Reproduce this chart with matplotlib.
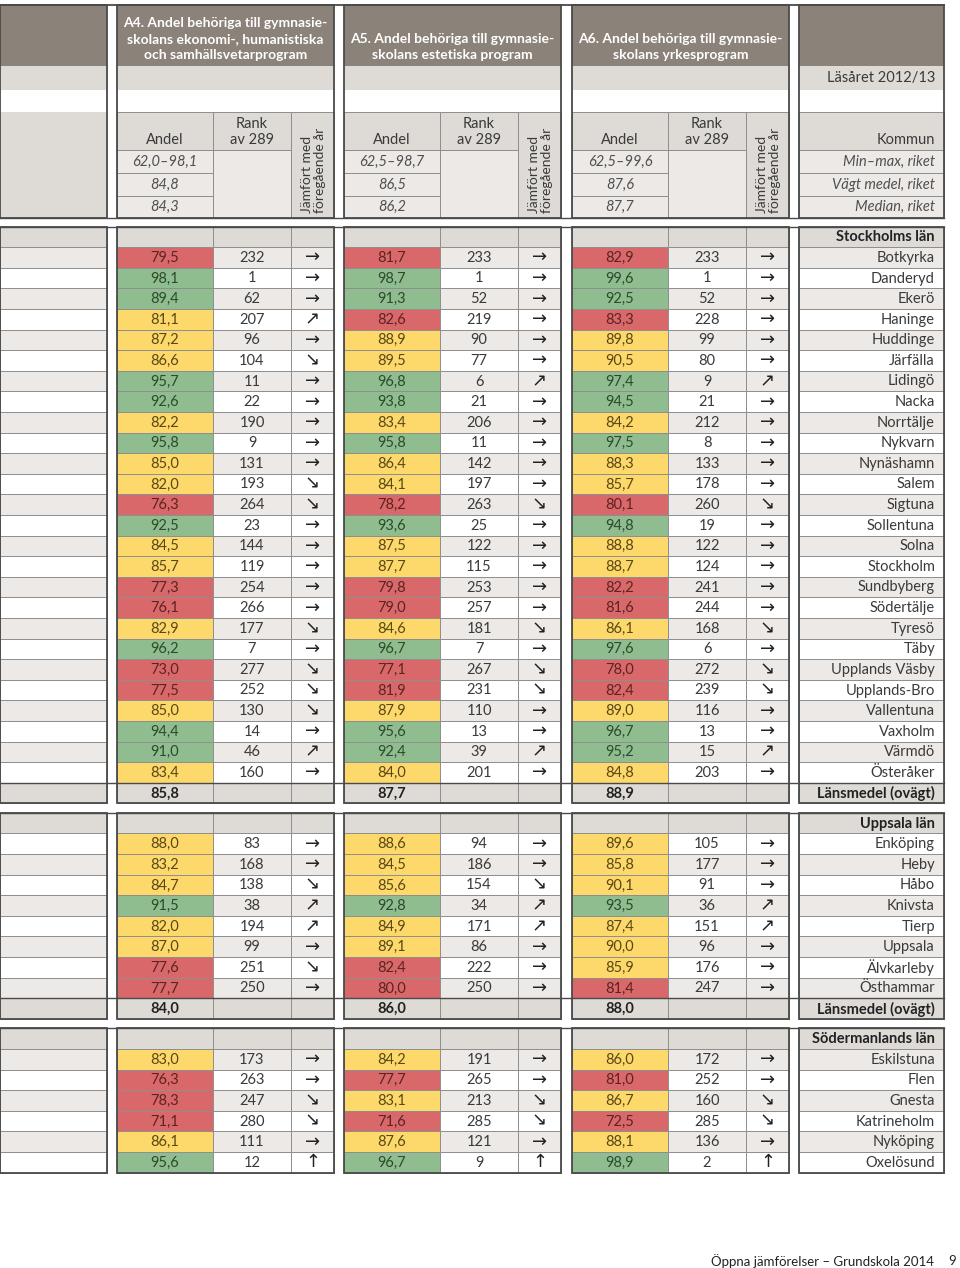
import numpy as np
import matplotlib.pyplot as plt
from matplotlib.patches import Rectangle

# ================= DATA =================
titles = [
    "A4. Andel behöriga till gymnasie-\nskolans ekonomi-, humanistiska\noch samhällsvetarprogram",
    "A5. Andel behöriga till gymnasie-\nskolans estetiska program",
    "A6. Andel behöriga till gymnasie-\nskolans yrkesprogram",
]
year_label = "Läsåret 2012/13"
riket_labels = ["Min–max, riket", "Vägt medel, riket", "Median, riket"]
riket_a4 = ["62,0–98,1", "84,8", "84,3"]
riket_a5 = ["62,5–98,7", "86,5", "86,2"]
riket_a6 = ["62,5–99,6", "87,6", "87,7"]

# Stockholms län
sto_names = ["Botkyrka", "Danderyd", "Ekerö", "Haninge", "Huddinge", "Järfälla", "Lidingö",
             "Nacka", "Norrtälje", "Nykvarn", "Nynäshamn", "Salem", "Sigtuna", "Sollentuna",
             "Solna", "Stockholm", "Sundbyberg", "Södertälje", "Tyresö", "Täby",
             "Upplands Väsby", "Upplands-Bro", "Vallentuna", "Vaxholm", "Värmdö", "Österåker"]
sto_a4 = [79.5, 98.1, 89.4, 81.1, 87.2, 86.6, 95.7, 92.6, 82.2, 95.8, 85.0, 82.0, 76.3, 92.5,
          84.5, 85.7, 77.3, 76.1, 82.9, 96.2, 73.0, 77.5, 85.0, 94.4, 91.0, 83.4]
sto_a4_rank = [232, 1, 62, 207, 96, 104, 11, 22, 190, 9, 131, 193, 264, 23,
               144, 119, 254, 266, 177, 7, 277, 252, 130, 14, 46, 160]
sto_a4_trend = "rrrurdrrrrrddrrrrrdrdddrur"
sto_a5 = [81.7, 98.7, 91.3, 82.6, 88.9, 89.5, 96.8, 93.8, 83.4, 95.8, 86.4, 84.1, 78.2, 93.6,
          87.5, 87.7, 79.8, 79.0, 84.6, 96.7, 77.1, 81.9, 87.9, 95.6, 92.4, 84.0]
sto_a5_rank = [233, 1, 52, 219, 90, 77, 6, 21, 206, 11, 142, 197, 263, 25,
               122, 115, 253, 257, 181, 7, 267, 231, 110, 13, 39, 201]
sto_a5_trend = "rrrrrrurrrrrdrrrrrdrddrrur"
sto_a6 = [82.9, 99.6, 92.5, 83.3, 89.8, 90.5, 97.4, 94.5, 84.2, 97.5, 88.3, 85.7, 80.1, 94.8,
          88.8, 88.7, 82.2, 81.6, 86.1, 97.6, 78.0, 82.4, 89.0, 96.7, 95.2, 84.8]
sto_a6_rank = [233, 1, 52, 228, 99, 80, 9, 21, 212, 8, 133, 178, 260, 19,
               122, 124, 241, 244, 168, 6, 272, 239, 116, 13, 15, 203]
sto_a6_trend = "rrrrrrurrrrrdrrrrrdrddrrur"
sto_mean = [85.8, 87.7, 88.9]

# Uppsala län
upp_names = ["Enköping", "Heby", "Håbo", "Knivsta", "Tierp", "Uppsala", "Älvkarleby", "Östhammar"]
upp_a4 = [88.0, 83.2, 84.7, 91.5, 82.0, 87.0, 77.6, 77.7]
upp_a4_rank = [83, 168, 138, 38, 194, 99, 251, 250]
upp_a4_trend = "rrduurdr"
upp_a5 = [88.6, 84.5, 85.6, 92.8, 84.9, 89.1, 82.4, 80.0]
upp_a5_rank = [94, 186, 154, 34, 171, 86, 222, 250]
upp_a5_trend = "rrduurrr"
upp_a6 = [89.6, 85.8, 90.1, 93.5, 87.4, 90.0, 85.9, 81.4]
upp_a6_rank = [105, 177, 91, 36, 151, 96, 176, 247]
upp_a6_trend = "rrruurrr"
upp_mean = [84.0, 86.0, 88.0]

# Södermanlands län
sod_names = ["Eskilstuna", "Flen", "Gnesta", "Katrineholm", "Nyköping", "Oxelösund"]
sod_a4 = [83.0, 76.3, 78.3, 71.1, 86.1, 95.6]
sod_a4_rank = [173, 263, 247, 280, 111, 12]
sod_a4_trend = "rrddrU"
sod_a5 = [84.2, 77.7, 83.1, 71.6, 87.6, 96.7]
sod_a5_rank = [191, 265, 213, 285, 121, 9]
sod_a5_trend = "rrddrU"
sod_a6 = [86.0, 81.0, 86.7, 72.5, 88.1, 98.9]
sod_a6_rank = [172, 252, 160, 285, 136, 2]
sod_a6_trend = "rrddrU"

# colour class limits (red below first, green from second)
limits = [(80.0, 89.0), (83.0, 91.0), (84.0, 92.0)]

# ================= STYLE =================
DARK_HEAD = "#8b8279"
GRAY_HEAD = "#dedad6"
GRAY_ROW = "#ece9e6"
WHITE = "#ffffff"
GRID = "#8e8e8e"
BORDER = "#4a4a4a"
RED, GREEN, YELLOW = "#d9686a", "#8fbd8f", "#fdd96c"
TXT_RED, TXT_GREEN, TXT_YEL = "#5c2323", "#2c4a2d", "#5a4714"
TXT = "#3a3a3a"
ARROWS = {"r": "→", "u": "↗", "d": "↘", "U": "↑"}

plt.rcParams["font.family"] = ["Lato", "DejaVu Sans"]

fig = plt.figure(figsize=(9.6, 12.68), dpi=100)
ax = fig.add_axes([0, 0, 1, 1])
ax.set_xlim(0, 960)
ax.set_ylim(1268, 0)
ax.axis("off")

# column layout (pixels)
LEFT = (0, 107)
BLOCK_X = [117, 344, 572]
W_ANDEL, W_RANK, W_ARROW = 96, 78, 43
KOM = (799, 944)
ROW_H = 20.6
SEC_GAP = 9.5
PAD = 9


def rect(x0, x1, y0, y1, fc, ec="none", lw=0.0, z=1):
    ax.add_patch(Rectangle((x0, y0), x1 - x0, y1 - y0, facecolor=fc, edgecolor=ec,
                           linewidth=lw, zorder=z))


def cols(b):
    x0 = BLOCK_X[b]
    return x0, x0 + W_ANDEL, x0 + W_ANDEL + W_RANK, x0 + W_ANDEL + W_RANK + W_ARROW


def colour(v, b):
    lo, hi = limits[b]
    if v < lo:
        return RED, TXT_RED
    if v >= hi:
        return GREEN, TXT_GREEN
    return YELLOW, TXT_YEL


def fmt(v):
    return f"{v:.1f}".replace(".", ",")


def arrow_text(x, y, code):
    ax.text(x, y, ARROWS[code], ha="center", va="center", fontsize=13,
            color="#222222", family=["Noto Sans", "DejaVu Sans"])


# ---------- header ----------
H_TOP, H1, H2, H3, H4 = 5, 66, 90, 112, 150
riket_rows = [150, 172.5, 195.5, 218]
all_blocks = [LEFT] + [(cols(b)[0], cols(b)[3]) for b in range(3)] + [KOM]
for x0, x1 in all_blocks:
    rect(x0, x1, H_TOP, H1, DARK_HEAD)
    rect(x0, x1, H1, H2, GRAY_HEAD)
rect(LEFT[0], LEFT[1], H3, riket_rows[-1], GRAY_HEAD)

for b, (title, riket) in enumerate(zip(titles, [riket_a4, riket_a5, riket_a6])):
    x0, xa, xr, x1 = cols(b)
    ax.text((x0 + x1) / 2, 61, title, ha="center", va="bottom", color="white",
            fontsize=10, fontweight="bold", linespacing=1.38)
    rect(x0, xa, H3, H4, GRAY_HEAD, GRID, 0.7)
    rect(xa, xr, H3, H4, GRAY_HEAD, GRID, 0.7)
    rect(xa, xr, H4, riket_rows[-1], GRAY_ROW, GRID, 0.7)
    rect(xr, x1, H3, riket_rows[-1], GRAY_HEAD, GRID, 0.7)
    ax.text((x0 + xa) / 2, 144, "Andel", ha="center", va="baseline", fontsize=10.5, color=TXT)
    ax.text((xa + xr) / 2, 144, "Rank\nav 289", ha="center", va="baseline", fontsize=10.5,
            color=TXT, linespacing=1.2)
    ax.text((xr + x1) / 2 + 1, 170, "Jämfört med\nföregående år", ha="center", va="center",
            rotation=90, fontsize=10, color=TXT, linespacing=1.05, multialignment="left")
    for i, val in enumerate(riket):
        rect(x0, xa, riket_rows[i], riket_rows[i + 1], GRAY_ROW, GRID, 0.7)
        ax.text((x0 + xa) / 2, (riket_rows[i] + riket_rows[i + 1]) / 2 + 0.5, val,
                ha="center", va="center", fontsize=10.5, style="italic", color="#505050")

ax.text(KOM[1] - PAD, 78, year_label, ha="right", va="center", fontsize=10.5, color=TXT)
rect(KOM[0], KOM[1], H3, H4, GRAY_HEAD, GRID, 0.7)
ax.text(KOM[1] - PAD, 144, "Kommun", ha="right", va="baseline", fontsize=10.5, color=TXT)
for i, lab in enumerate(riket_labels):
    rect(KOM[0], KOM[1], riket_rows[i], riket_rows[i + 1], GRAY_ROW, GRID, 0.7)
    ax.text(KOM[1] - PAD, (riket_rows[i] + riket_rows[i + 1]) / 2 + 0.5, lab, ha="right",
            va="center", fontsize=10.5, style="italic", color="#505050")

for x0, x1 in all_blocks:
    rect(x0, x1, H_TOP, riket_rows[-1], "none", BORDER, 1.3, z=3)
ax.plot([0, KOM[1]], [H_TOP, H_TOP], color=BORDER, lw=1.3, zorder=3)
ax.plot([0, KOM[1]], [riket_rows[-1], riket_rows[-1]], color=BORDER, lw=1.0, zorder=3)

# ---------- sections ----------
sections = [
    ("Stockholms län", sto_names, [sto_a4, sto_a5, sto_a6],
     [sto_a4_rank, sto_a5_rank, sto_a6_rank], [sto_a4_trend, sto_a5_trend, sto_a6_trend],
     sto_mean, True),
    ("Uppsala län", upp_names, [upp_a4, upp_a5, upp_a6],
     [upp_a4_rank, upp_a5_rank, upp_a6_rank], [upp_a4_trend, upp_a5_trend, upp_a6_trend],
     upp_mean, False),
    ("Södermanlands län", sod_names, [sod_a4, sod_a5, sod_a6],
     [sod_a4_rank, sod_a5_rank, sod_a6_rank], [sod_a4_trend, sod_a5_trend, sod_a6_trend],
     None, True),
]

top = 226.5
for lan, names, vals, ranks, trends, mean, shade_first in sections:
    n_rows = 1 + len(names) + (1 if mean is not None else 0)
    bottom = top + n_rows * ROW_H

    # län header row
    y0, y1 = top, top + ROW_H
    rect(LEFT[0], LEFT[1], y0, y1, GRAY_HEAD, GRID, 0.7)
    for b in range(3):
        c = cols(b)
        for j in range(3):
            rect(c[j], c[j + 1], y0, y1, GRAY_HEAD, GRID, 0.7)
    rect(KOM[0], KOM[1], y0, y1, GRAY_HEAD, GRID, 0.7)
    ax.text(KOM[1] - PAD, (y0 + y1) / 2 + 0.5, lan, ha="right", va="center", fontsize=10.5,
            fontweight="bold", color="#222222")

    # municipality rows
    for i, name in enumerate(names):
        y0 = top + (i + 1) * ROW_H
        y1 = y0 + ROW_H
        yc = (y0 + y1) / 2 + 0.5
        bg = GRAY_ROW if (i % 2 == 0) == shade_first else WHITE
        rect(LEFT[0], LEFT[1], y0, y1, bg, GRID, 0.7)
        for b in range(3):
            x0, xa, xr, x1 = cols(b)
            fc, tc = colour(vals[b][i], b)
            rect(x0, xa, y0, y1, fc, GRID, 0.7)
            rect(xa, xr, y0, y1, bg, GRID, 0.7)
            rect(xr, x1, y0, y1, bg, GRID, 0.7)
            ax.text((x0 + xa) / 2, yc, fmt(vals[b][i]), ha="center", va="center",
                    fontsize=10.5, color=tc)
            ax.text((xa + xr) / 2, yc, str(ranks[b][i]), ha="center", va="center",
                    fontsize=10.5, color=TXT)
            arrow_text((xr + x1) / 2, yc - 0.5, trends[b][i])
        rect(KOM[0], KOM[1], y0, y1, bg, GRID, 0.7)
        ax.text(KOM[1] - PAD, yc, name, ha="right", va="center", fontsize=10.5, color=TXT)

    # länsmedel row
    if mean is not None:
        y0 = bottom - ROW_H
        y1 = bottom
        yc = (y0 + y1) / 2 + 0.5
        rect(LEFT[0], LEFT[1], y0, y1, GRAY_HEAD, GRID, 0.7)
        for b in range(3):
            c = cols(b)
            for j in range(3):
                rect(c[j], c[j + 1], y0, y1, GRAY_HEAD, GRID, 0.7)
            ax.text((c[0] + c[1]) / 2, yc, fmt(mean[b]), ha="center", va="center",
                    fontsize=10.5, fontweight="bold", color="#222222")
        rect(KOM[0], KOM[1], y0, y1, GRAY_HEAD, GRID, 0.7)
        ax.text(KOM[1] - PAD, yc, "Länsmedel (ovägt)", ha="right", va="center",
                fontsize=10.5, fontweight="bold", color="#222222")
        ax.plot([0, KOM[1]], [y0, y0], color=BORDER, lw=1.0, zorder=3)

    # outer borders
    for x0, x1 in all_blocks:
        rect(x0, x1, top, bottom, "none", BORDER, 1.3, z=3)
    ax.plot([0, KOM[1]], [top, top], color=BORDER, lw=1.0, zorder=3)

    top = bottom + SEC_GAP

# footer
ax.text(934, 1261, "Öppna jämförelser – Grundskola 2014", ha="right", va="center",
        fontsize=9.5, color="#222222")
ax.text(956, 1261, "9", ha="right", va="center", fontsize=9.5, color="#222222")

fig.savefig("out.png", dpi=100)
plt.close(fig)
